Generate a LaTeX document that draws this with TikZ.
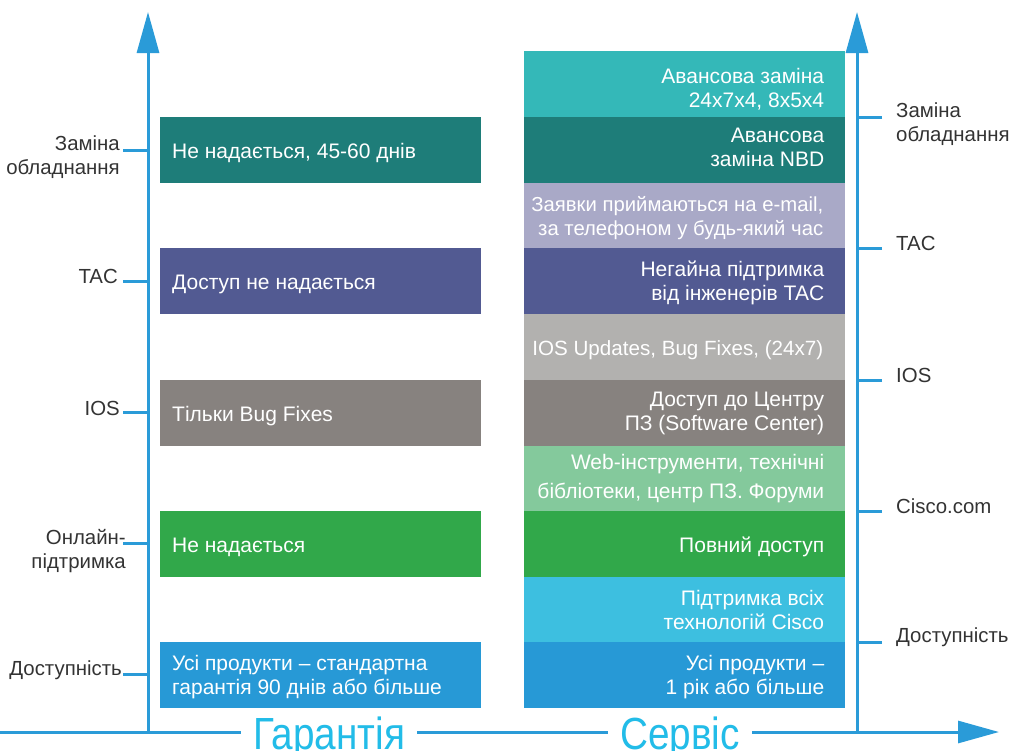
\documentclass[tikz,border=0pt]{standalone}
\usepackage{fontspec}
\usepackage{graphicx}
\setmainfont{Liberation Sans}
\usetikzlibrary{arrows.meta}
\definecolor{axisblue}{HTML}{2A9BD8}
\definecolor{captxt}{HTML}{22BCE8}
\definecolor{labtxt}{HTML}{333333}
\definecolor{cDteal}{HTML}{1E7D79}
\definecolor{cLteal}{HTML}{34B8B8}
\definecolor{cLav}{HTML}{A9A9C7}
\definecolor{cPurp}{HTML}{525A92}
\definecolor{cLgray}{HTML}{B2B1AF}
\definecolor{cGray}{HTML}{87827F}
\definecolor{cLgreen}{HTML}{84C99C}
\definecolor{cGreen}{HTML}{31A84A}
\definecolor{cLblue}{HTML}{3DBFE0}
\definecolor{cBlue}{HTML}{2799D6}
\tikzset{
  axisline/.style={draw=axisblue, line width=3pt},
  axisarrow/.style={axisline, -{Triangle[length=41pt,width=22pt]}},
  tickline/.style={draw=axisblue, line width=3pt},
  box/.style={rectangle, inner sep=0pt, minimum width=321pt, anchor=north west},
  boxtext/.style={text=white, inner sep=0pt, font=\fontsize{21}{24}\selectfont},
  ltext/.style={boxtext, align=left, anchor=west},
  rtext/.style={boxtext, align=right, anchor=east},
  axlab/.style={text=labtxt, inner sep=0pt, font=\fontsize{20.4}{24}\selectfont},
  llab/.style={axlab, align=right, anchor=east},
  rlab/.style={axlab, align=left, anchor=west},
  caption/.style={text=captxt, fill=white, inner xsep=12pt, inner ysep=0pt, anchor=base, font=\fontsize{45}{48}\selectfont}
}
\begin{document}
\begin{tikzpicture}[x=1pt,y=-1pt]
\useasboundingbox (0,0) rectangle (1012,750);

% axes
\coordinate (Xs) at (0,732);
\coordinate (Xe) at (999,732);
\coordinate (Lb) at (148,732);
\coordinate (Lt) at (148,12);
\coordinate (Rb) at (857,732);
\coordinate (Rt) at (857,12);
\draw[axisarrow] (Xs) -- (Xe);
\draw[axisarrow] (Lb) -- (Lt);
\draw[axisarrow] (Rb) -- (Rt);

\node[caption] (gar) at (329,749) {\scalebox{0.86}[1]{Гарантія}};
\node[caption] (serv) at (680,749) {\scalebox{0.86}[1]{Сервіс}};

% left ticks
\foreach \i/\y in {1/150,2/281,3/412,4/543,5/674}{
  \coordinate (lt\i) at (123,\y);
  \draw[tickline] (lt\i) -- (lt\i -| Lb);
}
% right ticks
\foreach \i/\y in {1/117,2/248,3/380,4/511,5/642}{
  \coordinate (rt\i) at (882,\y);
  \draw[tickline] (rt\i) -- (rt\i -| Rb);
}

% left labels
\node[llab] (la1) at (120,157) {Заміна\\обладнання};
\node[llab] (la2) at (118,276) {TAC};
\node[llab] (la3) at (120,408) {IOS};
\node[llab] (la4) at (126,551) {Онлайн-\\підтримка};
\node[llab] (la5) at (122,670) {Доступність};

% right labels
\node[rlab] (ra1) at (896,124) {Заміна\\обладнання};
\node[rlab] (ra2) at (896,243) {TAC};
\node[rlab] (ra3) at (896,375) {IOS};
\node[rlab] (ra4) at (896,506) {Cisco.com};
\node[rlab] (ra5) at (896,637) {Доступність};

% left boxes
\node[box, fill=cDteal, minimum height=66pt] (l1) at (160,117) {};
\node[box, fill=cPurp,  minimum height=66pt] (l2) at (160,248) {};
\node[box, fill=cGray,  minimum height=66pt] (l3) at (160,380) {};
\node[box, fill=cGreen, minimum height=66pt] (l4) at (160,511) {};
\node[box, fill=cBlue,  minimum height=66pt] (l5) at (160,642) {};
\node[ltext] (l1t) at ([xshift=12pt,yshift=-3pt]l1.west) {Не надається, 45-60 днів};
\node[ltext] (l2t) at ([xshift=12pt,yshift=-3pt]l2.west) {Доступ не надається};
\node[ltext] (l3t) at ([xshift=12pt,yshift=-3pt]l3.west) {Тільки Bug Fixes};
\node[ltext] (l4t) at ([xshift=12pt,yshift=-3pt]l4.west) {Не надається};
\node[ltext] (l5t) at ([xshift=12pt,yshift=-2pt]l5.west) {Усі продукти – стандартна\\гарантія 90 днів або більше};

% right boxes
\node[box, fill=cLteal,  minimum height=66pt] (r1) at (524,51) {};
\node[box, fill=cDteal,  minimum height=66pt] (r2) at (524,117) {};
\node[box, fill=cLav,    minimum height=65pt] (r3) at (524,183) {};
\node[box, fill=cPurp,   minimum height=66pt] (r4) at (524,248) {};
\node[box, fill=cLgray,  minimum height=66pt] (r5) at (524,314) {};
\node[box, fill=cGray,   minimum height=66pt] (r6) at (524,380) {};
\node[box, fill=cLgreen, minimum height=65pt] (r7) at (524,446) {};
\node[box, fill=cGreen,  minimum height=66pt] (r8) at (524,511) {};
\node[box, fill=cLblue,  minimum height=65pt] (r9) at (524,577) {};
\node[box, fill=cBlue,   minimum height=66pt] (r10) at (524,642) {};
\node[rtext] (r1t) at ([xshift=-21pt,yshift=-5pt]r1.east) {Авансова заміна\\24x7x4, 8x5x4};
\node[rtext] (r2t) at ([xshift=-21pt,yshift=3pt]r2.east) {Авансова\\заміна NBD};
\node[rtext, font=\fontsize{20.3}{24}\selectfont] (r3t) at ([xshift=-22pt,yshift=-2pt]r3.east) {Заявки приймаються на e-mail,\\за телефоном у будь-який час};
\node[rtext] (r4t) at ([xshift=-21pt,yshift=-2pt]r4.east) {Негайна підтримка\\від інженерів TAC};
\node[rtext, font=\fontsize{20.6}{24}\selectfont] (r5t) at ([xshift=-22pt,yshift=-3pt]r5.east) {IOS Updates, Bug Fixes, (24x7)};
\node[rtext] (r6t) at ([xshift=-21pt]r6.east) {Доступ до Центру\\ПЗ (Software Center)};
\node[rtext] (r7t) at ([xshift=-21pt]r7.east) {Web-інструменти, технічні\\[5pt]бібліотеки, центр ПЗ. Форуми};
\node[rtext] (r8t) at ([xshift=-21pt,yshift=-3pt]r8.east) {Повний доступ};
\node[rtext] (r9t) at ([xshift=-21pt]r9.east) {Підтримка всіх\\технологій Cisco};
\node[rtext] (r10t) at ([xshift=-21pt,yshift=-2pt]r10.east) {Усі продукти –\\1 рік або більше};
\end{tikzpicture}
\end{document}
